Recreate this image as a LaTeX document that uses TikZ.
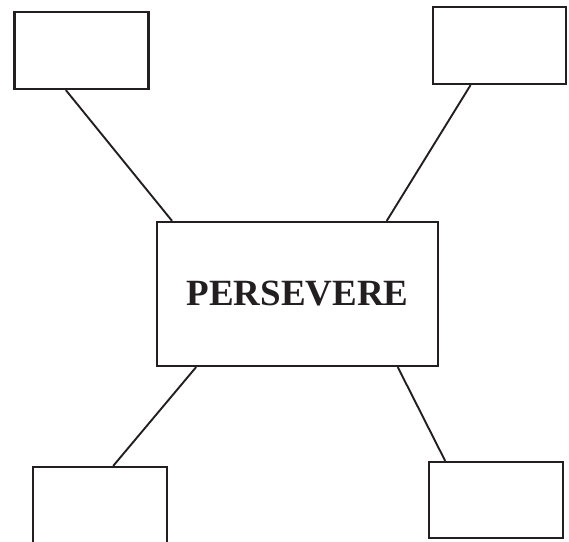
\documentclass[tikz,border=0pt]{standalone}
\usepackage{fontspec}
\setmainfont{Liberation Serif}
\usetikzlibrary{positioning, calc}
\definecolor{inkgray}{HTML}{231F20}

\begin{document}
\begin{tikzpicture}[
      x=1pt, y=-1pt,
      every node/.style={font=\bfseries\fontsize{37}{44}\selectfont},
      blank/.style={draw=inkgray, line width=2.2pt, minimum width=134pt, minimum height=77pt, inner sep=0pt},
      hubbox/.style={draw=inkgray, line width=2.2pt, minimum width=281pt, minimum height=144pt, inner sep=0pt, text=inkgray},
      link/.style={draw=inkgray, line width=1.9pt},
    ]
    \clip (0,0) rectangle (569,541);
    \node[hubbox] (hub) at (297.5, 294) {PERSEVERE};
    \node[blank] (tl) at (81.5, 50.5) {};
    \node[blank, minimum width=133pt] (tr) at (499.5, 45.5) {};
    \node[blank] (bl) at (100, 505.5) {};
    \node[blank, minimum height=76pt] (br) at (496, 500) {};

    \draw[link] ($(tl.south west)!.385!(tl.south east)$) -- ($(hub.north west)!.057!(hub.north east)$);
    \draw[link] ($(tr.south west)!.286!(tr.south east)$) -- ($(hub.north west)!.815!(hub.north east)$);
    \draw[link] ($(hub.south west)!.142!(hub.south east)$) -- ($(bl.north west)!.597!(bl.north east)$);
    \draw[link] ($(hub.south west)!.854!(hub.south east)$) -- ($(br.north west)!.127!(br.north east)$);
  \end{tikzpicture}
\end{document}
